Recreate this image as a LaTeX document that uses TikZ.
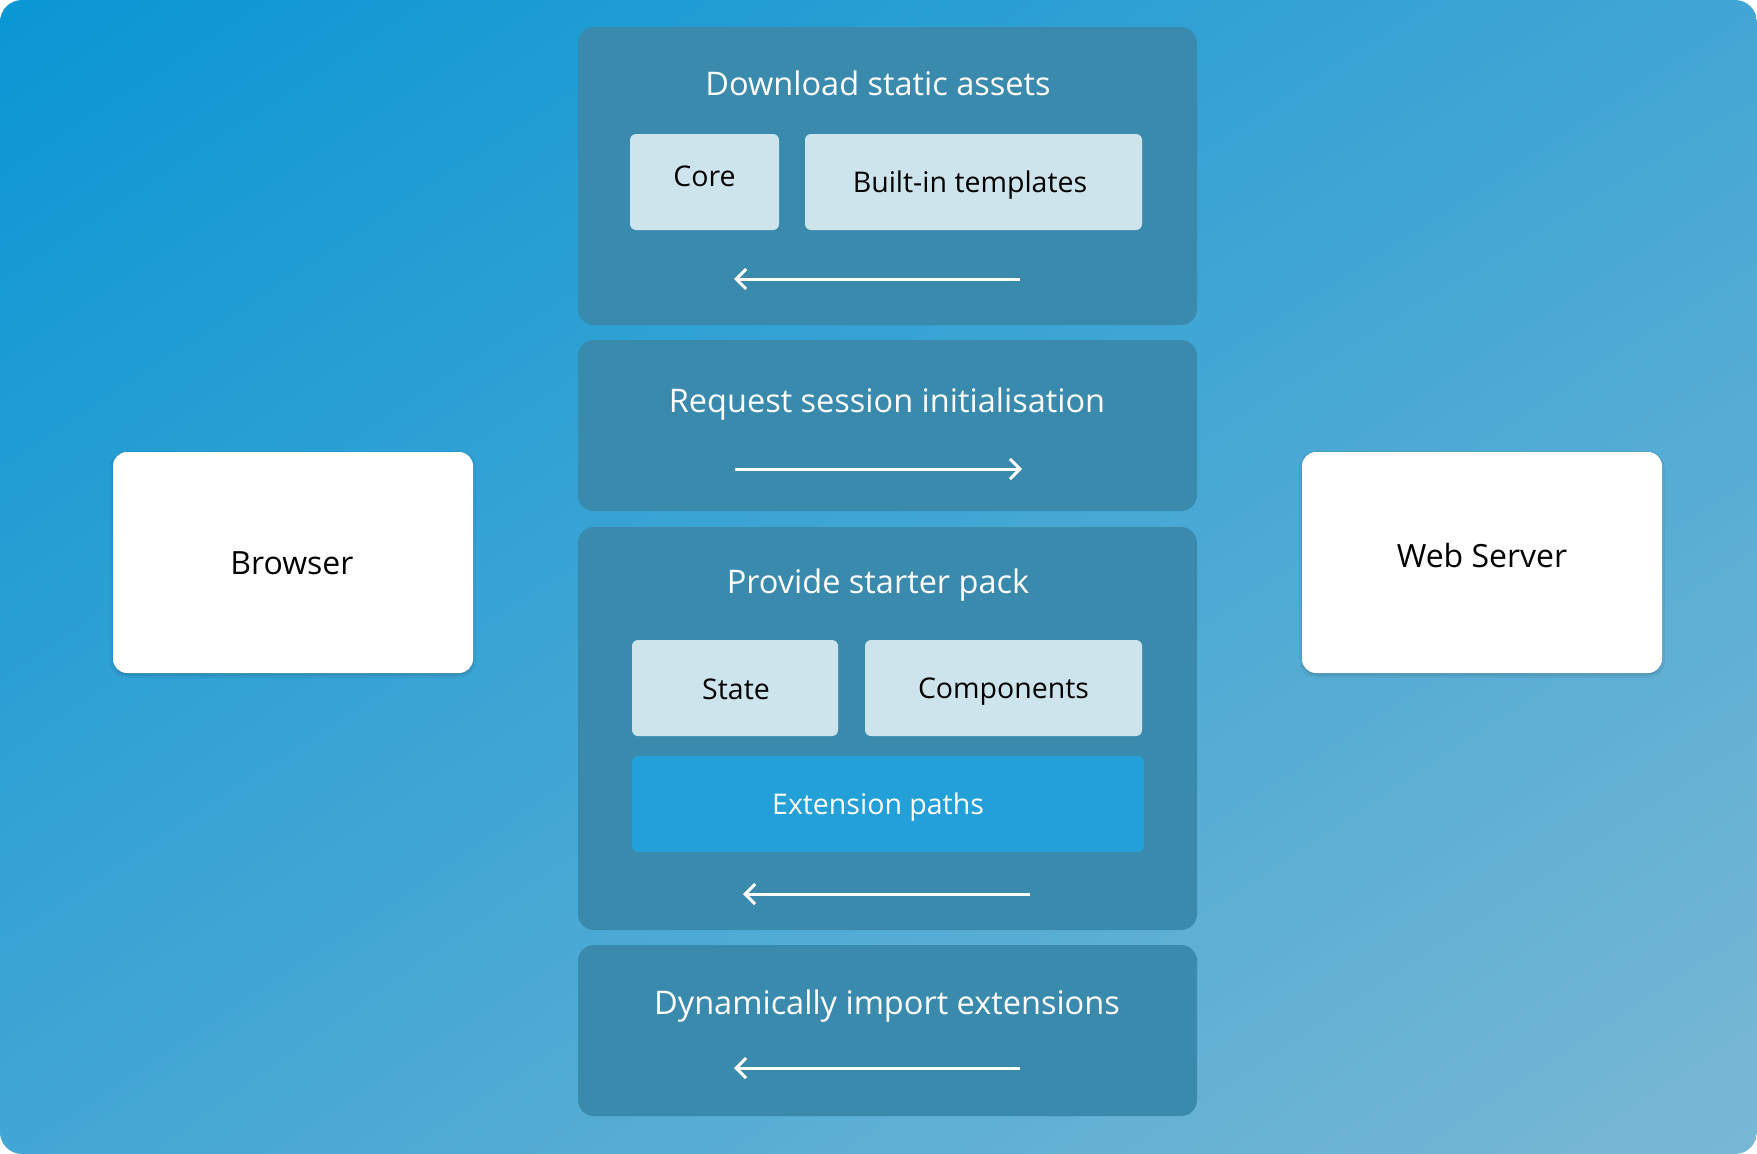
\documentclass[tikz,border=0pt]{standalone}
\usepackage{fontspec}
\setmainfont{Open Sans}
\usetikzlibrary{arrows.meta,shadows.blur,shadings}
\definecolor{bgTL}{HTML}{0A96D4}
\definecolor{bgBR}{HTML}{7AB8D4}
\definecolor{bgMID}{HTML}{42A6D4}
\definecolor{panel}{HTML}{3A8AAD}
\definecolor{lightbox}{HTML}{CDE4EC}
\definecolor{extbox}{HTML}{23A0D8}
\tikzset{
  panelbox/.style={fill=panel, rounded corners=16pt},
  itembox/.style={fill=lightbox, rounded corners=6pt, inner sep=0pt, text=black},
  itemtext/.style={text=black, font=\fontsize{28.5}{32}\selectfont, inner sep=0pt},
  extitem/.style={fill=extbox, rounded corners=6pt, inner sep=0pt},
  endpoint/.style={fill=white, rounded corners=14pt, inner sep=0pt,
    blur shadow={shadow blur steps=6, shadow xshift=0pt, shadow yshift=-2pt, shadow opacity=20, shadow blur extra rounding=2pt}},
  endtext/.style={text=black, font=\fontsize{32}{36}\selectfont, inner sep=0pt},
  titletext/.style={text=white, font=\fontsize{32.5}{36}\selectfont, inner sep=0pt},
  flow/.style={draw=white, line width=3pt, -{Straight Barb[length=10pt,width=20pt,line width=3pt]}},
}
\begin{document}
\begin{tikzpicture}[x=1pt,y=-1pt]
\useasboundingbox (0,0) rectangle (1757,1154);
\shade[upper left=bgTL, lower right=bgBR, upper right=bgMID, lower left=bgMID, rounded corners=22pt] (0,0) rectangle (1757,1154);

% panels
\fill[panelbox] (578,27) rectangle (1197,325);
\fill[panelbox] (578,340) rectangle (1197,511);
\fill[panelbox] (578,527) rectangle (1197,930);
\fill[panelbox] (578,945) rectangle (1197,1116);

% titles
\node[titletext] (t1) at (878,83) {Download static assets};
\node[titletext] (t2) at (887,404) {Request session initialisation};
\node[titletext] (t3) at (878,585) {Provide starter pack};
\node[titletext] (t4) at (887,1006) {Dynamically import extensions};

% inner boxes
\node[itembox, minimum width=149pt, minimum height=96pt] (core) at (704.5,182) {};
\node[itemtext] (coretxt) at (704.5,176) {Core};
\node[itembox, minimum width=337pt, minimum height=96pt] (tmpl) at (973.5,182) {};
\node[itemtext] (tmpltxt) at (970,185) {Built-in templates};
\node[itembox, minimum width=206pt, minimum height=96pt] (state) at (735,688) {};
\node[itemtext] (statetxt) at (736,689) {State};
\node[itembox, minimum width=277pt, minimum height=96pt] (comp) at (1003.5,688) {};
\node[itemtext] (comptxt) at (1003.5,692) {Components};
\node[extitem, minimum width=512pt, minimum height=96pt] (ext) at (888,804) {};
\node[itemtext, text=white] (exttxt) at (878,807) {Extension paths};

% endpoints
\node[endpoint, minimum width=360pt, minimum height=221pt] (browser) at (293,562.5) {};
\node[endtext] (browsertxt) at (292,563) {Browser};
\node[endpoint, minimum width=360pt, minimum height=221pt] (server) at (1482,562.5) {};
\node[endtext] (servertxt) at (1482,555) {Web Server};

% arrows
\coordinate (a1s) at (1020,279); \coordinate (a1e) at (734,279);
\coordinate (a2s) at (735,469); \coordinate (a2e) at (1022,469);
\coordinate (a3s) at (1030,894); \coordinate (a3e) at (743,894);
\coordinate (a4s) at (1020,1068); \coordinate (a4e) at (734,1068);
\draw[flow] (a1s) -- (a1e);
\draw[flow] (a2s) -- (a2e);
\draw[flow] (a3s) -- (a3e);
\draw[flow] (a4s) -- (a4e);
\end{tikzpicture}
\end{document}
